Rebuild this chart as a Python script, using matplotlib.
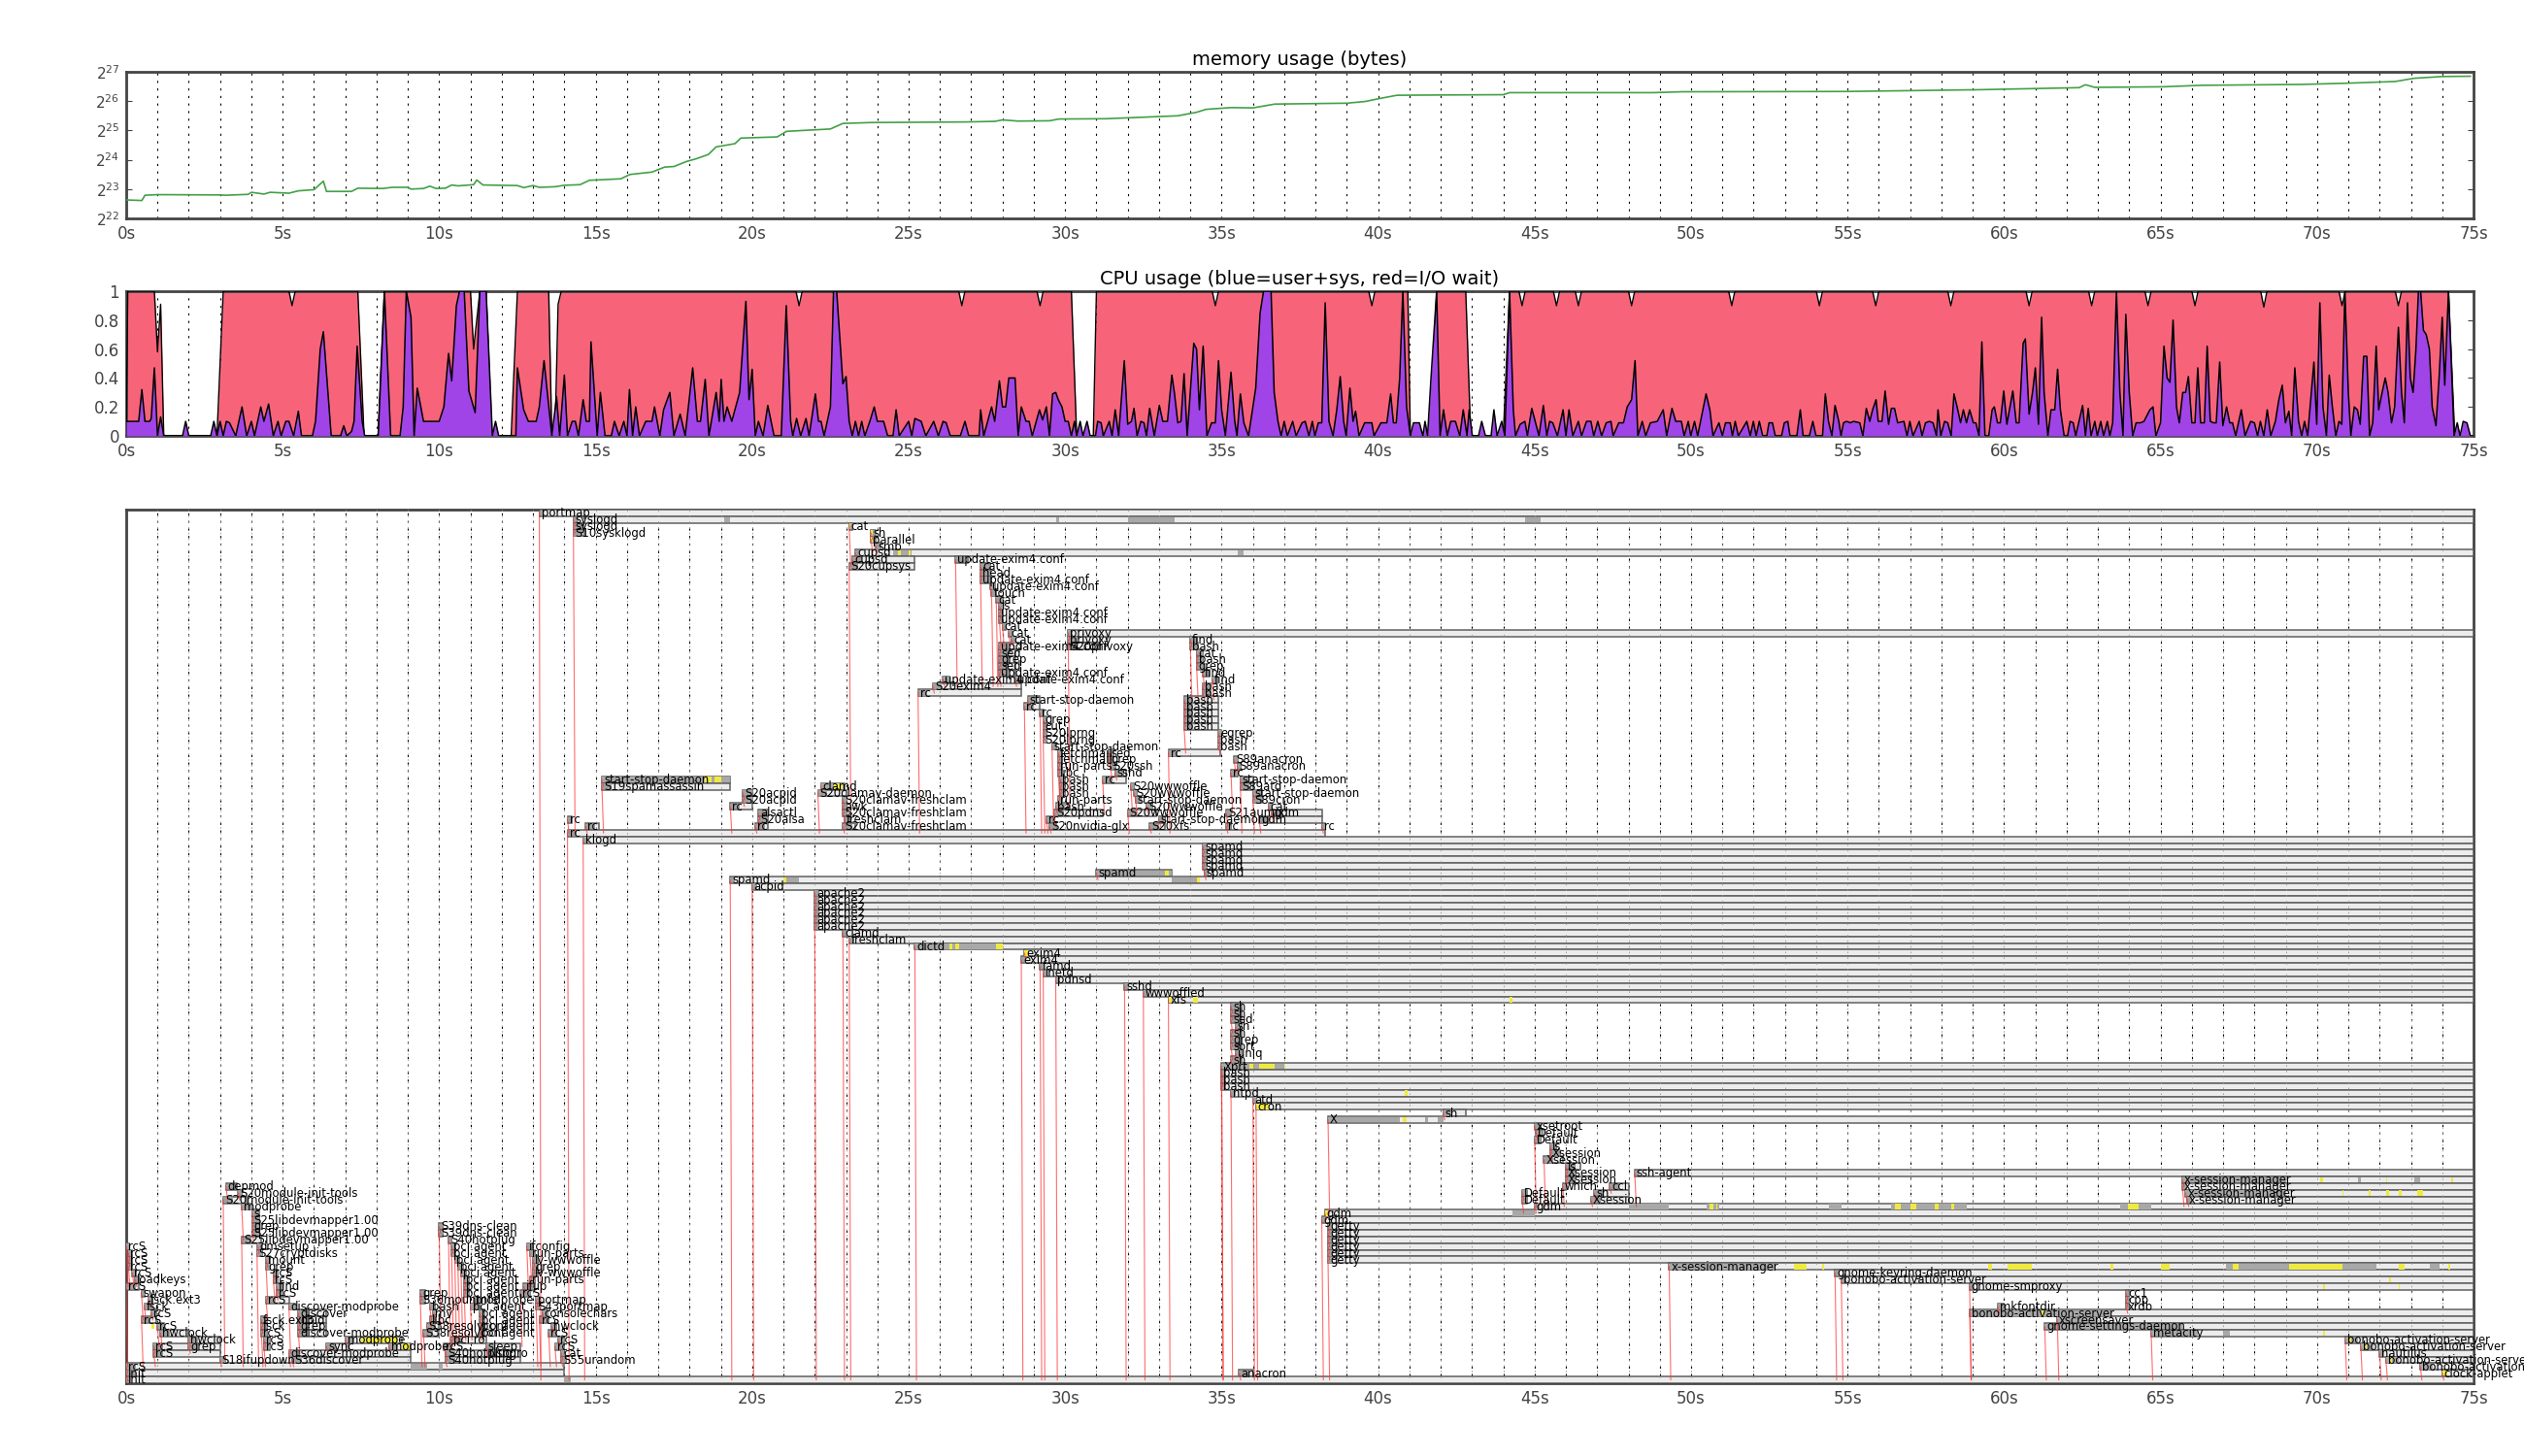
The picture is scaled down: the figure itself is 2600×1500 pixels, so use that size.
import matplotlib
matplotlib.use('Agg')
import matplotlib.pyplot as plt
from matplotlib.patches import Rectangle

# memory usage, log2(bytes) against seconds
mem_points = [(0,22.63),(.5,22.61),(.6,22.79),(1,22.81),(3,22.8),(3.2,22.79),(3.9,22.82),(4,22.89),(4.4,22.83),(4.6,22.89),
    (5.2,22.86),(5.5,22.94),(6,22.98),(6.3,23.27),(6.4,22.92),(7.2,22.92),(7.4,23.03),(8.2,23.02),(8.5,23.06),(9,23.06),
    (9.1,23),(9.5,23.02),(9.7,23.1),(9.9,23.02),(10.2,23.03),(10.4,23.14),(10.6,23.11),(11.1,23.15),(11.2,23.31),(11.4,23.14),
    (12.5,23.12),(12.7,23.05),(13,23.12),(13.2,23.06),(13.7,23.08),(14,23.13),(14.5,23.15),(14.8,23.3),(15.8,23.35),(16.1,23.5),
    (16.8,23.58),(17.2,23.75),(17.5,23.77),(17.9,23.94),(18.2,24.03),(18.6,24.18),(18.85,24.44),(19.45,24.55),(19.64,24.74),
    (20.8,24.78),(21.1,24.97),(21.8,25.01),(22.5,25.05),(22.9,25.24),(23.8,25.27),(26.8,25.29),(27.75,25.31),(28,25.36),
    (28.5,25.32),(29.5,25.33),(29.8,25.39),(31.3,25.4),(33.6,25.5),(34.2,25.62),(34.5,25.72),(35.3,25.78),(36,25.77),(36.7,25.9),
    (39,25.93),(39.6,25.99),(40,26.08),(40.6,26.2),(42,26.21),(44,26.22),(44.2,26.29),(48.8,26.29),(49.7,26.32),(55,26.33),
    (59.2,26.39),(62.4,26.46),(62.6,26.56),(62.9,26.47),(65.1,26.49),(66.3,26.54),(69.5,26.57),(70.9,26.61),(72.5,26.67),
    (73.1,26.78),(74,26.84),(74.9,26.85)]

# total cpu (busy + io wait)
cpu_total = [(0,0),(.05,1),(.9,1),(1,.58),(1.1,.91),(1.2,0),(2.9,0),(3.1,1),(5.2,1),(5.3,.9),(5.4,1),(7.4,1),(7.6,0),(8.05,0),
    (8.25,1),(11,1),(11.1,.6),(11.3,1),(11.5,1),(11.67,0),(12.3,0),(12.5,1),(13.5,1),(13.6,0),(13.7,0),(13.8,.91),(13.9,1),
    (21.4,1),(21.5,.9),(21.6,1),(26.6,1),(26.7,.9),(26.8,1),(29.1,1),(29.2,.9),(29.3,1),(30.2,1),(30.37,0),(30.9,0),(31,1),
    (34.7,1),(34.8,.9),(34.9,1),(39.7,1),(39.8,.9),(39.9,1),(40.95,1),(41.03,0),(41.7,0),(41.87,1),(42.8,1),(42.96,0),(44,0),
    (44.2,1),(44.5,1),(44.6,.9),(44.7,1),(45.6,1),(45.7,.9),(45.8,1),(46.3,1),(46.4,.9),(46.5,1),(48,1),(48.1,.9),(48.2,1),
    (51.2,1),(51.3,.9),(51.4,1),(54,1),(54.1,.9),(54.2,1),(55.8,1),(55.9,.9),(56,1),(58.2,1),(58.3,.9),(58.4,1),(60.7,1),
    (60.8,.9),(60.9,1),(62.7,1),(62.8,.9),(62.9,1),(64.5,1),(64.6,.9),(64.7,1),(66,1),(66.1,.9),(66.2,1),(68.2,1),(68.3,.89),
    (68.4,1),(70.7,1),(70.8,.9),(70.9,1),(72.5,1),(72.6,.9),(72.7,1),(74.2,1),(74.4,0),(75,0)]

# user+sys, in four stretches
cpu_busy_a = [(0,.1),(.4,.1),(.5,.32),(.6,.1),(.75,.1),(.8,.12),(.9,.47),(1,0),(1.1,.13),(1.2,0),(1.8,0),(1.9,.1),(2,0),(2.7,0),
    (2.8,.1),(2.9,0),(3,.1),(3.1,0),(3.2,.1),(3.3,.09),(3.5,0),(3.7,.2),(3.85,0),(4,.1),(4.1,0),(4.3,.2),(4.4,.1),(4.55,.22),
    (4.7,0),(4.85,.1),(4.95,0),(5.1,.1),(5.2,.1),(5.35,0),(5.5,.17),(5.6,0),(5.95,0),(6.05,.1),(6.2,.6),(6.3,.72),(6.55,0),
    (6.85,0),(6.95,.07),(7.05,0),(7.2,.03),(7.28,.1),(7.38,.62),(7.54,.1),(7.62,0),(8.05,0),(8.25,1),(8.45,0),(8.75,0),(8.85,.2),
    (8.95,1),(9.1,.82),(9.2,0),(9.3,.33),(9.5,.1),(10,.1),(10.15,.2),(10.3,.57),(10.4,.38),(10.55,.9),(10.65,1),(10.8,1),
    (10.95,.31),(11.15,.16),(11.3,1),(11.5,1),(11.7,0),(11.8,.1),(11.9,0),(12.45,0),(12.5,.47),(12.7,.18),(12.85,.1),(13.1,.1),
    (13.2,.2),(13.35,.52),(13.6,0),(13.75,.27),(13.85,0),(14,.42),(14.1,0),(14.25,.1),(14.35,.1),(14.45,0),(14.6,.25),(14.7,.1),
    (14.8,.1),(14.85,.65),(15.05,0),(15.15,.3),(15.3,0),(15.5,0),(15.6,.1),(15.75,0),(15.9,.1),(16,0),(16.08,.32),(16.18,0),
    (16.28,.2),(16.4,0),(16.6,.1),(16.8,.1),(16.88,.2),(17.05,0),(17.17,.18),(17.37,.3),(17.5,0),(17.7,.15),(17.86,0),(18.1,.47),
    (18.25,.1),(18.35,.1),(18.5,.39),(18.62,0),(18.85,.3),(18.95,.1),(19.01,.39),(19.1,.1),(19.2,.2),(19.35,.1),(19.6,.3),
    (19.8,.93),(19.9,.25),(20,.46),(20.1,0),(20.2,.1),(20.35,0),(20.5,.21),(20.7,0),(20.93,0),(21.09,.9),(21.23,.1),(21.3,0),
    (21.42,.12),(21.55,0),(21.72,.12),(21.82,0),(22.02,.29),(22.12,.1),(22.2,.1),(22.3,0),(22.5,.2),(22.6,1),(22.7,1),(22.9,.36),
    (23,.41),(23.1,.1),(23.2,0),(23.3,.1),(23.4,0),(23.5,.1),(23.6,0),(23.76,.1),(23.9,.2),(24,.1),(24.2,.1),(24.33,0),(24.5,0),
    (24.6,.18),(24.7,0),(25,.1),(25.1,0),(25.2,.12),(25.4,.1),(25.55,0),(25.8,.1),(25.95,0),(26.1,.1),(26.2,.09),(26.33,0),
    (26.65,0),(26.8,.1),(26.92,0),(27.25,0),(27.3,.18),(27.4,0),(27.65,.2),(27.75,.1),(27.9,.38),(28,.2),(28.1,.2),(28.2,.4),
    (28.4,.4),(28.5,0),(28.6,.2),(28.75,.1),(28.85,.1),(28.95,0),(29.18,.18),(29.28,.11),(29.4,.2),(29.5,0),(29.6,.29),(29.7,.3)]
cpu_busy_b = [(29.78,.25),(29.9,.2),(30,.1),(30.1,.1),(30.2,0),(30.3,.1),(30.37,0),(30.48,.1),(30.57,0),(30.7,.1),(30.8,0),(30.97,0),
    (31.04,.1),(31.15,.09),(31.22,0),(31.41,.1),(31.5,0),(31.6,.18),(31.71,0),(31.89,.52),(32,.08),(32.12,.1),(32.2,.19),(32.3,0),
    (32.42,.1),(32.52,.09),(32.6,0),(32.7,.19),(32.85,0),(33.01,.21),(33.12,.1),(33.27,.1),(33.41,.42),(33.49,.3),(33.6,.09),
    (33.7,.1),(33.8,.43),(33.9,0),(34.11,.64),(34.2,.6),(34.29,.18),(34.41,.62),(34.53,0),(34.68,.09),(34.8,.09),(34.9,.52),
    (35,.18),(35.12,0),(35.3,.44),(35.42,.1),(35.49,0),(35.6,.29),(35.71,.09),(35.86,0),(36.09,.33),(36.23,.85),(36.34,1),(36.58,1),
    (36.68,.3),(36.8,.1),(36.9,0),(37,.1),(37.1,0),(37.27,.1),(37.38,0),(37.57,.09),(37.67,.1),(37.79,0),(37.9,.1),(37.98,0),
    (38.09,.09),(38.2,.09),(38.31,.92),(38.43,.1),(38.56,0),(38.68,.18),(38.79,.41),(38.9,.1),(38.98,0),(39.1,.33),(39.2,.1),
    (39.28,.17),(39.39,0),(39.57,.09),(39.8,.09),(39.87,0),(40.09,.09),(40.28,.09),(40.4,.29),(40.49,.09),(40.58,.09),(40.69,.4),
    (40.79,1),(40.91,.2),(41.03,0),(41.13,.09),(41.32,.09),(41.43,0),(41.5,.1),(41.58,0),(41.69,.4),(41.87,1),(41.98,0),(42.09,.18),
    (42.21,0),(42.32,.1),(42.47,.1),(42.61,0),(42.72,.18),(42.84,0),(42.91,.18),(43.01,0),(43.21,0),(43.31,.1),(43.43,0),(43.61,0),
    (43.7,.18),(43.8,0),(43.95,.1),(44.05,0),(44.2,1),(44.32,.18),(44.39,0),(44.54,.08),(44.69,.1),(44.77,0),(44.91,.19),(45.14,0),
    (45.28,.21),(45.39,0),(45.48,.1),(45.58,.09),(45.73,0),(45.91,.18),(46,0),(46.1,.18),(46.22,0),(46.4,.1),(46.5,0),(46.66,.1),
    (46.8,.1),(46.89,0),(47.02,.1),(47.14,0),(47.29,.09),(47.44,.1),(47.51,0),(47.69,.09),(47.84,.09),(47.96,.2),(48.1,.25),
    (48.21,.52),(48.3,0),(48.44,.1),(48.55,0),(48.7,.09),(48.92,.1),(49.11,.18),(49.22,0),(49.39,.19),(49.51,.1),(49.69,.1),
    (49.78,0),(49.91,.1),(49.99,0),(50.11,.1),(50.21,0),(50.48,.29),(50.6,.18),(50.7,0),(50.89,.09),(51,0),(51.1,.09),(51.25,.09),
    (51.32,0),(51.41,.1),(51.51,0),(51.78,.1),(51.89,0),(51.99,.1),(52.08,0),(52.18,.1),(52.29,0)]
cpu_busy_c = [(52.42,0),(52.49,.09),(52.6,.09),(52.69,0),(52.89,0),(52.98,.09),(53.09,.1),(53.16,0),(53.38,0),(53.49,.18),(53.58,0),
    (53.78,0),(53.89,.1),(53.99,0),(54.2,0),(54.29,.29),(54.39,.1),(54.5,0),(54.6,.21),(54.72,.1),(54.79,0),(54.87,.09),(54.97,.1),
    (55.09,.09),(55.19,.1),(55.39,.09),(55.49,0),(55.6,.19),(55.71,.1),(55.8,.18),(55.91,.25),(55.98,.1),(56.1,.1),(56.2,.31),
    (56.31,.08),(56.4,.19),(56.5,.19),(56.6,.09),(56.8,.1),(56.9,0),(56.99,.1),(57.09,0),(57.29,.1),(57.38,0),(57.49,.09),(57.61,.1),
    (57.73,.09),(57.84,0),(57.89,.18),(57.98,0),(58.1,.1),(58.2,.09),(58.31,0),(58.4,.29),(58.5,.2),(58.61,.09),(58.7,.18),(58.8,.09),
    (58.9,.18),(59.02,.09),(59.1,.09),(59.2,0),(59.29,.65),(59.39,0),(59.51,0),(59.62,.18),(59.69,.2),(59.79,.09),(59.88,.09),
    (59.99,.31),(60.09,.08),(60.28,.31),(60.39,.09),(60.48,.09),(60.61,.64),(60.68,.67),(60.8,.15),(60.91,.3),(61,.47),(61.1,.08),
    (61.2,.82),(61.28,.3),(61.4,0),(61.5,.18),(61.62,.18),(61.71,.46),(61.8,.18),(61.92,0),(62.03,0),(62.11,.1),(62.21,.09),(62.29,0),
    (62.51,.21),(62.6,0),(62.69,.19),(62.78,0),(62.9,.1),(62.98,0),(63.09,.1),(63.18,0),(63.3,.1),(63.38,0),(63.47,.09),(63.59,1),
    (63.7,.3),(63.8,0),(63.89,.84),(64,.3),(64.11,0),(64.22,.09),(64.36,.09),(64.47,.1),(64.66,.18),(64.76,.2),(64.85,0),(65,.09),
    (65.11,.62),(65.21,.4),(65.3,.37),(65.4,.8),(65.51,.2),(65.6,.09),(65.71,.3),(65.8,.3),(65.89,.41),(66,.09),(66.1,.09),(66.19,.47),
    (66.28,.09),(66.4,.09),(66.49,.62),(66.59,.1),(66.69,.09),(66.78,.09),(66.89,.51),(66.99,.07),(67.11,.2),(67.21,.09),(67.3,.09)]
cpu_busy_d = [(67.4,0),(67.58,.18),(67.7,0),(67.88,.1),(68,.09),(68.1,0),(68.19,.1),(68.3,0),(68.41,.18),(68.52,0),(68.67,.1),(68.78,.25),
    (68.89,.35),(68.99,.09),(69.1,.17),(69.19,0),(69.29,.47),(69.41,.1),(69.51,0),(69.6,.1),(69.7,0),(69.9,.51),(69.99,.08),(70.09,.92),
    (70.19,.2),(70.3,0),(70.39,.42),(70.49,.2),(70.6,0),(70.7,.1),(70.79,.08),(70.89,1),(71,.3),(71.08,0),(71.19,.2),(71.29,.18),
    (71.38,.08),(71.49,.55),(71.59,.55),(71.68,0),(71.78,.09),(71.89,.62),(71.97,.18),(72.08,.3),(72.18,.4),(72.27,.3),(72.38,.09),
    (72.48,.2),(72.6,.75),(72.7,.3),(72.79,.09),(72.89,.92),(72.98,.4),(73.07,.3),(73.16,.6),(73.24,1),(73.31,1),(73.4,.73),(73.49,.7),
    (73.59,.6),(73.68,.2),(73.8,.07),(73.9,.4),(74,.82),(74.08,.35),(74.2,1),(74.38,0),(74.48,.09),(74.57,0),(74.67,.1),(74.79,.09),(74.9,0)]

# processes: name, start, end, row (0 = top)
procs_top = [('portmap',13.2,75,0),('syslogd',14.29,75,1),('syslogd',14.29,14.6,2),('S10sysklogd',14.29,14.65,3),('cat',23.1,23.2,2),
    ('sh',23.8,23.95,3),('parallel',23.8,23.95,4),('smb',23.95,24.1,5),('cupsd',23.3,75,6),('cupsd',23.2,25.2,7),('S20cupsys',23.1,25.2,8),
    ('update-exim4.conf',26.5,26.9,7),('cat',27.3,27.6,8),('head',27.3,27.6,9),('update-exim4.conf',27.3,27.65,10),
    ('update-exim4.conf',27.6,27.75,11),('touch',27.65,27.8,12),('cat',27.8,28,13),('ls',27.9,28,14),('update-exim4.conf',27.9,28,15),
    ('update-exim4.conf',27.9,28,16),('cat',28,28.1,17),('cat',28.2,28.3,18),('cat',28.3,28.4,19),('update-exim4.conf',27.9,28.6,20),
    ('sed',27.9,28.4,21),('grep',27.9,28.4,22),('sed',27.9,28.4,23),('update-exim4.conf',27.9,28.4,24),('update-exim4.conf',26.1,26.3,25),
    ('update-exim4.conf',28.4,28.6,25),('S20exim4',25.77,28.6,26),('rc',25.3,28.6,27),('privoxy',30.1,75,18),('privoxy',30.1,31.1,19),
    ('S20privoxy',30.1,31.1,20),('find',34,34.2,19),('bash',34,34.25,20),('cat',34.2,34.4,21),('bash',34.2,34.4,22),('grep',34.2,34.4,23),
    ('find',34.4,34.6,24),('find',34.7,34.85,25),('bash',34.4,34.65,26),('bash',34.4,34.65,27),('bash',33.8,34.9,28),('bash',33.8,34.9,29),
    ('bash',33.8,34.9,30),('bash',33.8,34.9,31),('bash',33.8,34.9,32),('egrep',34.9,35,33),('bash',34.9,35,34),('bash',34.9,35,35),
    ('rc',33.3,34.95,36)]
procs_rc = [('start-stop-daemon',28.8,29.2,28),('rc',28.7,29.2,29),('rc',29.2,29.3,30),('grep',29.3,29.4,31),('cut',29.3,29.4,32),
    ('S20lprng',29.3,29.4,33),('S20lprng',29.3,29.4,34),('start-stop-daemon',29.58,29.7,35),('fetchmail',29.78,29.9,36),('sed',31.4,31.55,36),
    ('fetchmail',29.78,29.9,37),('grep',31.4,31.55,37),('run-parts',29.78,29.9,38),('S20ssh',31.45,31.6,38),('libc',29.78,29.9,39),
    ('sshd',31.6,31.95,39),('bash',29.85,30,40),('rc',31.2,31.95,40),('bash',29.85,30,41),('bash',29.85,30,42),('run-parts',29.78,29.9,43),
    ('bash',29.7,30.1,44),('S20pdnsd',29.65,31.2,45),('rc',29.4,29.6,46),('S20nvidia-glx',29.5,29.7,47),('start-stop-daemon',15.2,19.3,40),
    ('S19spamassassin',15.2,19.3,41),('S20acpid',19.7,20,42),('S20acpid',19.7,20,43),('rc',19.3,20,44),('alsactl',20.2,20.5,45),
    ('S20alsa',20.2,20.5,46),('rc',20.1,20.5,47),('clamd',22.2,22.95,41),('S20clamav-daemon',22.1,23,42),('S20clamav-freshclam',22.9,23,43),
    ('awk',22.9,23,44),('S20clamav-freshclam',22.9,23,45),('freshclam',22.95,23.1,46),('S20clamav-freshclam',22.9,23.3,47),
    ('S89anacron',35.4,35.5,37),('S89anacron',35.5,35.6,38),('rc',35.3,35.5,39),('start-stop-daemon',35.6,36,40),('S89atd',35.6,36,41),
    ('start-stop-daemon',36,36.3,42),('S89cron',36,36.3,43),('cat',36.5,36.6,44),('gdm',36.6,38.2,45),('S21aumix',35.15,35.3,45),
    ('gdm',36.2,38.2,46),('rc',35.15,35.3,47),('rc',38.2,38.3,47),('S20wwwoffle',32.1,32.2,41),('S20wwwoffle',32.2,32.3,42),
    ('start-stop-daemon',32.25,32.4,43),('S20wwwoffle',32.6,32.8,44),('S20wwwoffle',32,32.9,45),('start-stop-daemon',33,33.2,46),
    ('S20xfs',32.7,33.2,47),('rc',14.1,14.25,46),('rc',14.68,15.1,47),('rc',14.1,38.3,48),('klogd',14.6,75,49)]
procs_daemons = [('spamd',34.4,75,50),('spamd',34.4,75,51),('spamd',34.4,75,52),('spamd',34.4,75,53),('spamd',34.45,75,54),('spamd',31,33.4,54),
    ('spamd',19.3,75,55),('acpid',20,75,56),('apache2',22,75,57),('apache2',22,75,58),('apache2',22,75,59),('apache2',22,75,60),
    ('apache2',22,75,61),('apache2',22,75,62),('clamd',22.9,75,63),('freshclam',23.1,75,64),('dictd',25.2,75,65),('exim4',28.7,75,66),
    ('exim4',28.6,75,67),('famd',29.2,75,68),('inetd',29.3,75,69),('pdnsd',29.7,75,70),('sshd',31.9,75,71),('wwwoffled',32.5,75,72),
    ('xfs',33.3,75,73),('sh',35.3,35.65,74),('sh',35.3,35.65,75),('sed',35.3,35.65,76),('sh',35.45,35.65,77),('sh',35.3,35.65,78),
    ('grep',35.3,35.65,79),('sort',35.3,35.65,80),('uniq',35.45,35.65,81),('sh',35.3,35.65,82),('Xprt',35,75,83),('bash',35,75,84),
    ('bash',35,75,85),('bash',35,75,86),('ntpd',35.3,75,87),('atd',36,75,88),('cron',36.1,75,89),('sh',42.08,42.8,90),('X',38.4,75,91)]
procs_x = [('xsetroot',45,45.2,92),('Default',45.05,45.25,93),('Default',45,45.2,94),('ls',45.5,45.7,95),('Xsession',45.5,45.8,96),
    ('Xsession',45.3,45.9,97),('ls',46,46.45,98),('Xsession',46,46.3,99),('Xsession',46,46.8,100),('which',45.9,46,101),('ccl',47.4,48,101),
    ('Default',44.6,44.75,102),('sh',46.9,48,102),('Default',44.6,44.75,103),('Xsession',46.8,48,103),('gdm',45,75,104),('gdm',38.3,75,105),
    ('gdm',38.2,75,106),('getty',38.4,75,107),('getty',38.4,75,108),('getty',38.4,75,109),('getty',38.4,75,110),('getty',38.4,75,111),
    ('getty',38.4,75,112),('ssh-agent',48.2,75,99),('x-session-manager',65.7,75,100),('x-session-manager',65.7,75,101),
    ('x-session-manager',65.8,75,102),('x-session-manager',65.85,75,103),('x-session-manager',49.3,75,113),('gnome-keyring-daemon',54.6,75,114),
    ('bonobo-activation-server',54.8,75,115),('gnome-smproxy',58.9,75,116),('cc1',63.9,64,117),('cpp',63.9,64,118),('mkfontdir',59.8,60,119),
    ('xrdb',63.9,64,119),('bonobo-activation-server',58.9,75,120),('xscreensaver',61.7,75,121),('gnome-settings-daemon',61.3,75,122),
    ('metacity',64.7,75,123),('bonobo-activation-server',70.9,75,124),('bonobo-activation-server',71.4,75,125),('nautilus',72,75,126),
    ('bonobo-activation-server',72.2,75,127),('bonobo-activation-server',73.3,75,128),('clock-applet',74,75,129),('anacron',35.56,36,129)]
procs_early = [('rcS',.01,.1,110),('rcS',.07,.2,111),('rcS',.07,.2,112),('rcS',.07,.2,113),('rcS',.2,.3,114),('loadkeys',.29,.4,115),
    ('rcS',0,.4,116),('swapon',.49,.6,117),('fsck.ext3',.7,.85,118),('fsck',.58,.85,119),('rcS',.8,.95,120),('rcS',.49,.95,121),
    ('rcS',1,1.2,122),('hwclock',1.1,2,123),('hwclock',2,3,124),('grep',2,3,125),('rcS',.88,2,125),('rcS',.88,3,126),
    ('depmod',3.19,3.55,101),('S20module-init-tools',3.58,3.7,102),('S20module-init-tools',3.1,3.85,103),('modprobe',3.69,4,104),
    ('s',4.02,4.25,105),('S25libdevmapper1.00',4.02,4.25,106),('grep',4.02,4.25,107),('S25libdevmapper1.00',4.02,4.25,108),
    ('S25libdevmapper1.00',3.69,4.3,109),('dmsetup',4.2,4.35,110),('S27cryptdisks',4.18,4.35,111),('mount',4.47,4.6,112),('grep',4.47,4.6,113),
    ('rcS',4.7,4.85,114),('rcS',4.7,4.85,115),('find',4.8,5,116),('rcS',4.8,5,117),('rcS',4.47,5.2,118),('discover-modprobe',5.2,5.4,119),
    ('discover',5.5,6.4,120),('dbid',5.5,6.4,121),('grep',5.5,6.4,122),('discover-modprobe',5.5,6.4,123),('modprobe',7,8.8,124),
    ('sync',6.4,7.1,125),('modprobe',8.4,9.1,125),('discover-modprobe',5.2,9.1,126),('S36discover',5.3,9.1,127),('S18ifupdown',3,3.15,127),
    ('fsck.ext3',4.32,4.5,121),('fsck',4.32,4.5,122),('rcS',4.32,4.5,123),('rcS',4.4,4.6,124),('rcS',4.4,4.6,125),
    ('rcS',0,14,128),('init',0,14,129),('init',0,75,130)]
procs_boot = [('S39dns-clean',10,10.1,107),('S39dns-clean',10,10.1,108),('S40hotplug',10.3,10.4,109),('pci.agent',10.4,10.5,110),
    ('pci.agent',10.4,10.5,111),('pci.agent',10.5,10.65,112),('pci.agent',10.6,10.75,113),('pci.agent',10.7,10.85,114),('pci.agent',10.8,10.95,115),
    ('pci.agent',10.8,10.95,116),('pci.agent',10.8,10.95,117),('grep',9.4,9.55,117),('S36mountnfs',9.4,9.55,118),('modprobe',11.1,11.3,118),
    ('bash',9.7,9.85,119),('pci.agent',11,11.3,119),('mv',9.8,9.9,120),('pci.agent',11.3,11.45,120),('libc',9.7,9.85,121),('pci.agent',11.3,11.45,121),
    ('S38resolvconf',9.6,10,122),('pci.agent',11.3,11.45,122),('S38resolvconf',9.5,10,123),('pci.agent',11.3,11.45,123),('pci.ro',10.4,11.5,124),
    ('rcS',10.15,10.4,125),('sleep',11.5,12.6,125),('S40hotplug',10.2,12.6,126),('usbgro',11.55,12.6,126),('S40hotplug',10.2,12.6,127),
    ('ifconfig',12.8,12.95,110),('run-parts',12.9,13.05,111),('lv-wwwoffle',13,13.15,112),('grep',13,13.15,113),('lv-wwwoffle',13,13.15,114),
    ('run-parts',12.9,13.05,115),('ifup',12.7,13.05,116),('rcS',12.6,12.9,117),('portmap',13.1,13.2,118),('S43portmap',13.1,13.2,119),
    ('consolechars',13.3,13.45,120),('rcS',13.2,13.5,121),('hwclock',13.6,13.75,122),('rcS',13.5,13.75,123),('rcS',13.8,14,124),('rcS',13.7,14,125),
    ('cat',13.9,14,126),('S55urandom',13.9,14.05,127)]
procs = procs_top + procs_rc + procs_daemons + procs_x + procs_early + procs_boot

# cpu activity seen inside the long bars: row, start, end
busy_segs = [(1,19.1,19.3),(1,29.7,29.8),(1,32,33.5),(1,44.7,45.2),(6,24.5,25.1),(6,35.5,35.7),(40,15.2,19.3),(41,22.2,22.95),(55,21,21.5),
    (54,31,33.4),(55,33.4,34.2),(65,25.2,28),(83,35,37),(91,38.4,40.7),(91,41.5,41.6),(91,41.9,42.1),(104,48,49.3),(104,50.5,50.9),(104,54.4,54.8),
    (104,56.4,58.8),(104,63.7,64.7),(105,44.3,45),(100,65.7,69),(100,71.3,71.4),(100,73.1,73.3),(102,65.8,69),(113,49.3,52.7),(113,67.1,71.9),
    (113,73.6,73.9),(120,58.9,63.4),(121,61.7,63),(122,61.3,65.7),(123,64.7,66.2),(123,67,67.2),(128,9.1,9.6),(128,10,10.1),(130,14,14.2),
    (124,70.9,71.3),(125,71.4,71.8),(127,72.2,72.6),(128,73.3,73.7)]
yellow_segs = [(6,24.65,24.75),(6,25,25.05),(40,18.5,18.7),(40,18.8,19),(41,22.6,22.9),(55,21,21.1),(54,33.2,33.3),(55,34.2,34.3),(65,26.3,26.4),
    (65,26.5,26.6),(65,27.8,28),(66,28.7,28.8),(73,33.3,33.4),(73,34.1,34.25),(73,44.2,44.3),(83,35.9,36),(83,36.2,36.7),(83,37,37.05),(87,40.85,40.95),
    (89,36.1,36.5),(91,40.8,40.9),(104,50.6,50.7),(104,50.8,50.85),(104,56.5,56.7),(104,57,57.2),(104,57.8,57.9),(104,58.3,58.4),(104,63.95,64.3),
    (105,38.3,38.4),(100,70.1,70.2),(100,72.2,72.25),(100,74.3,74.35),(102,70.8,70.85),(102,71.65,71.7),(102,72.2,72.3),(102,72.6,72.7),(102,73.2,73.4),
    (113,53.3,53.7),(113,54.2,54.25),(113,59.5,59.6),(113,60.1,60.9),(113,63.4,63.5),(113,65,65.3),(113,67.3,67.5),(113,69.1,70.8),(113,72.6,72.8),
    (113,74.2,74.25),(115,72.3,72.35),(116,70.2,70.25),(116,72.6,72.65),(120,61.2,61.3),(123,70.2,70.25),(129,74,74.15),(124,71,71.1),(125,71.5,71.6),
    (127,72.3,72.4),(2,23.1,23.15),(3,23.8,23.85),(4,23.8,23.85),(105,38.35,38.4),(122,.8,.9),(124,7.5,8.7),(125,8.8,9.05)]

plt.rcParams['font.family'] = 'DejaVu Sans'
SPINE = '#444444'
TICK = '#444444'
END = 75
ROWS = 131
sec_ticks = list(range(0, 80, 5))
sec_labels = [str(s) + 's' for s in sec_ticks]

fig = plt.figure(figsize=(26, 15), dpi=100)
W, H = 2600.0, 1500.0


def make_axes(top, bottom):
    ax = fig.add_axes([130 / W, 1 - bottom / H, 2418 / W, (bottom - top) / H])
    ax.set_xlim(0, END)
    for s in ax.spines.values():
        s.set_color(SPINE)
        s.set_linewidth(2)
    ax.set_xticks(sec_ticks)
    ax.set_xticklabels(sec_labels, fontsize=12, color=TICK)
    ax.tick_params(axis='x', length=0, pad=5)
    ax.tick_params(axis='y', left=True, right=True, direction='in', length=4, colors=TICK, labelsize=12, pad=5)
    for s in range(1, END):
        ax.axvline(s, color='black', lw=.8, ls=(0, (2, 5)), zorder=1)
    return ax


# memory
ax1 = make_axes(74, 225)
ax1.set_title('memory usage (bytes)', fontsize=14, pad=5)
ax1.plot([p[0] for p in mem_points], [p[1] for p in mem_points], color='#43a047', lw=1.2, zorder=3)
ax1.set_ylim(22, 27)
ax1.set_yticks(range(22, 28))
ax1.set_yticklabels(['$2^{%d}$' % v for v in range(22, 28)], fontsize=11)

# cpu
ax2 = make_axes(300, 449)
ax2.set_title('CPU usage (blue=user+sys, red=I/O wait)', fontsize=14, pad=5)
top_t = [p[0] for p in cpu_total]
top_v = [p[1] for p in cpu_total]
ax2.fill_between(top_t, top_v, color='#f7647a', lw=0, zorder=2)
ax2.plot(top_t, top_v, color='black', lw=1, zorder=3)
busy = cpu_busy_a + cpu_busy_b + cpu_busy_c + cpu_busy_d
busy_t = [p[0] for p in busy]
busy_v = [p[1] for p in busy]
ax2.fill_between(busy_t, busy_v, color='#a044e8', lw=0, zorder=4)
ax2.plot(busy_t, busy_v, color='black', lw=1.1, zorder=5)
ax2.set_ylim(0, 1)
ax2.set_yticks([0, .2, .4, .6, .8, 1])
ax2.set_yticklabels(['0', '0.2', '0.4', '0.6', '0.8', '1'], fontsize=12)

# process tree
ax3 = make_axes(525, 1425)
ax3.set_ylim(ROWS, 0)
ax3.set_yticks([])
for s in range(1, END):
    ax3.axvline(s, color='#999999', lw=.6, ls=(0, (2, 5)), zorder=4.5)


def parent_row(name, start, end, row):
    # daemons hang off init unless a bar of the same name is alive just below
    alive = [q for q in procs if q[3] > row and q[1] <= start + 0.06 and q[2] >= start]
    alive.sort(key=lambda q: q[3])
    if end == END and not (start > 38 and row < 105):
        same = [q for q in alive if q[3] == row + 1 and q[0] == name]
        if same:
            return same[0][3] + .5
        return ROWS - 0.5
    if alive:
        return alive[0][3] + .5
    return ROWS - 0.5


for name, start, end, row in procs:
    ax3.add_patch(Rectangle((start, row), end - start, 1, fc='#ececec', ec='#606060', lw=1.1, zorder=3))
    dark = 0.15 if end == END else 0.3
    ax3.add_patch(Rectangle((start, row + .1), min(end - start, dark), .8, fc='#a0a0a0', ec='none', zorder=4))
for row, a, b in busy_segs:
    ax3.add_patch(Rectangle((a, row + .1), b - a, .8, fc='#a8a8a8', ec='none', zorder=4))
for row, a, b in yellow_segs:
    ax3.add_patch(Rectangle((a, row + .1), b - a, .8, fc='#f0ea40', ec='none', zorder=5))
for name, start, end, row in procs:
    ax3.plot([start, start + 0.05], [row + .5, parent_row(name, start, end, row)], color='#ff3030', lw=.8, alpha=.7, zorder=6)
for name, start, end, row in procs:
    ax3.text(start + .06, row + .55, name, fontsize=8.4, va='center', ha='left', color='black', zorder=7, clip_on=False)

fig.savefig('out.png', dpi=100)
